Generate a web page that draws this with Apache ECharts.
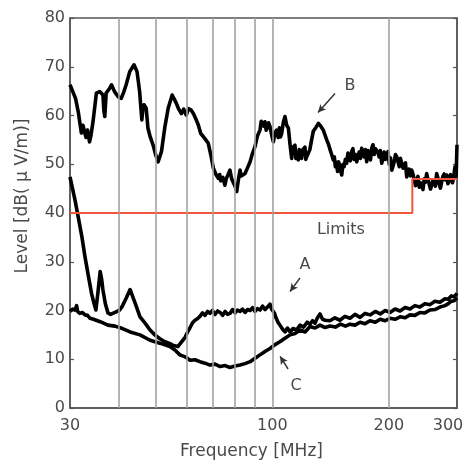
<!DOCTYPE html>
<html>
<head>
<meta charset="utf-8">
<script src="https://cdn.jsdelivr.net/npm/echarts@6/dist/echarts.min.js"></script>
<style>
html,body{margin:0;padding:0;background:#fff;overflow:hidden;width:463px;height:464px;}
#chart{width:463px;height:464px;}
</style>
</head>
<body>
<div id="chart"></div>
<script>
// ---- data (frequency MHz, level dB(uV/m)) ----
const curveB = [[30.0,66.3],[30.5,64.9],[31.0,63.5],[31.5,60.8],[32.1,56.4],[32.4,58.0],[32.7,57.7],[33.0,55.5],[33.3,57.0],[33.7,54.6],[34.0,56.0],[34.4,58.7],[35.1,64.6],[35.8,64.9],[36.5,64.2],[36.7,61.0],[36.9,59.8],[37.1,63.0],[37.2,64.6],[38.0,65.6],[38.4,66.3],[39.1,64.9],[40.0,63.8],[40.7,63.5],[41.3,64.8],[41.9,66.3],[42.8,69.0],[43.9,70.4],[44.7,69.0],[45.4,64.9],[45.8,61.0],[46.0,59.1],[46.3,61.5],[46.6,62.2],[47.2,61.5],[47.7,57.4],[48.4,55.5],[49.2,53.9],[50.0,51.8],[50.7,50.5],[51.7,52.6],[52.7,57.4],[53.8,61.5],[55.1,64.2],[56.5,62.5],[57.2,61.4],[58.2,60.4],[59.0,61.3],[59.9,60.1],[60.8,61.4],[61.7,61.1],[62.6,60.3],[63.6,59.1],[64.4,58.0],[65.3,56.3],[66.3,55.7],[67.3,55.0],[68.3,54.3],[69.3,52.0],[70.4,49.2],[71.4,48.0],[72.5,47.1],[73.1,47.9],[73.6,46.6],[74.5,47.3],[75.4,45.7],[76.0,47.0],[76.5,46.8],[77.7,48.8],[78.5,47.0],[79.3,47.4],[80.1,45.5],[80.9,44.4],[81.7,46.8],[82.5,48.8],[83.1,47.6],[83.7,47.2],[85.0,48.1],[86.2,49.2],[87.6,50.5],[88.9,52.3],[90.2,53.6],[91.5,55.8],[92.9,57.0],[93.6,58.8],[94.3,58.6],[95.0,57.8],[95.7,58.7],[96.4,57.0],[97.1,57.2],[97.8,58.5],[98.6,57.7],[99.6,56.0],[100.6,54.6],[101.6,56.5],[102.6,57.0],[103.5,55.5],[104.3,57.5],[105.0,55.6],[105.7,56.3],[106.7,58.5],[107.8,59.8],[108.9,58.0],[110.0,57.4],[111.1,54.0],[112.2,51.2],[112.8,53.4],[113.3,53.0],[114.4,53.9],[115.0,51.2],[115.5,52.0],[116.7,50.9],[117.3,53.0],[117.9,52.5],[119.0,51.2],[119.6,52.9],[120.2,52.6],[121.4,53.5],[122.0,51.0],[122.6,51.5],[123.9,51.2],[125.0,53.0],[126.3,55.0],[127.6,56.8],[129.5,57.5],[131.5,58.4],[133.4,57.8],[135.4,57.0],[136.8,56.0],[138.2,55.0],[139.5,54.2],[141.0,53.0],[142.3,52.0],[143.7,50.9],[144.6,51.5],[145.5,49.5],[146.5,50.4],[147.4,48.5],[148.3,50.5],[149.2,49.8],[150.2,48.6],[151.1,47.8],[152.2,50.0],[153.3,49.5],[154.4,51.0],[155.6,50.2],[156.8,52.3],[158.0,51.8],[159.1,50.7],[160.3,52.6],[161.5,53.2],[162.7,51.0],[164.0,52.0],[165.2,50.5],[166.4,51.6],[167.6,52.5],[168.9,51.2],[170.2,53.3],[171.4,52.5],[172.7,51.5],[174.0,53.0],[175.3,50.5],[176.6,52.8],[178.0,52.2],[179.3,50.9],[180.6,53.3],[182.0,54.0],[183.3,52.0],[184.7,53.2],[186.1,53.6],[187.4,52.4],[188.8,51.5],[190.2,52.8],[191.7,50.2],[193.1,51.2],[194.5,52.5],[196.0,51.0],[197.5,51.9],[199.0,52.6],[200.5,50.0],[202.0,51.3],[203.5,48.8],[205.0,49.6],[206.5,50.5],[208.0,52.0],[209.6,51.5],[211.1,50.6],[212.7,49.5],[214.3,51.2],[215.9,50.2],[217.5,49.2],[219.1,48.8],[220.8,50.3],[222.4,47.4],[224.0,48.2],[225.7,49.0],[227.4,47.6],[229.1,48.8],[230.8,48.0],[232.5,47.0],[234.3,45.6],[236.1,46.4],[237.8,47.5],[239.6,45.3],[241.4,46.2],[243.2,45.7],[245.0,44.8],[246.8,47.0],[248.6,46.3],[250.5,48.1],[252.4,46.9],[254.3,46.5],[256.2,44.9],[258.1,45.7],[260.0,46.8],[261.9,47.0],[263.8,45.5],[265.8,48.1],[267.8,47.2],[269.8,46.0],[271.8,45.1],[273.9,46.4],[275.9,47.5],[278.0,48.0],[280.0,46.8],[282.1,47.8],[284.2,46.0],[286.4,46.5],[288.5,47.9],[290.7,47.4],[292.1,46.2],[293.5,47.0],[295.0,48.2],[296.4,49.5],[298.5,47.5],[299.5,52.0],[300.0,54.0]];

const curveA = [[30.0,47.4],[30.9,42.7],[31.5,39.2],[32.2,35.1],[32.8,31.0],[33.5,26.9],[34.1,23.5],[34.6,21.5],[35.0,20.1],[35.4,23.5],[35.9,28.0],[36.2,26.5],[36.5,24.2],[37.0,21.5],[37.6,19.5],[38.2,19.2],[39.2,19.6],[40.2,20.0],[40.9,20.8],[41.9,22.5],[42.9,24.3],[43.5,23.0],[44.2,21.5],[45.5,18.7],[46.9,17.4],[48.3,16.0],[49.7,15.0],[51.2,14.2],[52.8,13.6],[54.4,13.2],[55.5,12.8],[57.0,12.6],[58.2,13.5],[59.5,14.5],[60.4,15.6],[61.3,16.5],[62.2,17.5],[63.1,18.0],[64.0,18.3],[65.0,18.8],[66.0,19.5],[67.0,19.0],[68.0,19.8],[69.0,19.4],[70.0,20.0],[71.1,19.2],[72.2,19.9],[73.3,19.6],[74.4,19.0],[75.5,19.8],[76.6,19.2],[77.7,19.4],[78.9,20.2],[80.1,19.5],[81.3,20.1],[82.5,19.8],[83.7,20.3],[85.0,19.6],[86.3,20.2],[87.6,20.0],[88.9,20.6],[90.2,19.8],[91.5,20.4],[92.9,20.1],[94.3,20.9],[95.8,20.2],[97.4,20.8],[98.6,21.3],[99.5,20.3],[100.4,20.5],[101.2,19.5],[102.2,18.5],[103.4,17.6],[104.6,17.0],[106.2,16.2],[107.8,15.6],[109.4,16.4],[111.1,15.6],[113.1,16.3],[115.5,16.0],[117.9,17.0],[120.5,16.6],[123.0,17.6],[125.1,17.2],[127.0,17.9],[128.9,17.4],[130.8,18.5],[132.8,19.3],[134.8,18.2],[137.0,18.0],[140.9,17.9],[145.0,18.5],[149.5,18.0],[154.0,18.8],[158.7,18.4],[163.5,19.2],[168.5,18.6],[173.6,19.4],[178.8,19.1],[184.5,19.8],[190.0,19.3],[195.6,20.0],[201.4,19.6],[207.5,20.3],[213.8,19.9],[220.3,20.6],[226.8,20.3],[233.5,21.0],[240.5,20.7],[247.8,21.4],[255.5,21.2],[263.0,21.9],[271.0,21.7],[279.3,22.4],[285.0,22.3],[290.0,23.0],[295.0,22.8],[300.0,23.5]];

const curveC = [[30.0,19.8],[30.5,20.3],[30.9,20.1],[31.2,21.0],[31.4,19.8],[31.8,19.4],[32.3,19.6],[32.8,19.1],[33.3,19.0],[33.8,18.4],[34.5,18.2],[35.9,17.7],[37.6,17.0],[39.2,16.8],[41.0,16.3],[42.9,15.6],[45.5,15.0],[48.3,13.9],[51.2,13.3],[54.4,12.6],[56.0,11.9],[57.7,10.9],[59.5,10.5],[61.3,9.8],[63.1,9.9],[65.0,9.5],[67.0,9.2],[69.0,8.8],[71.1,9.0],[73.3,8.5],[75.5,8.7],[77.7,8.3],[80.1,8.6],[82.5,8.8],[85.0,9.1],[87.6,9.5],[90.2,10.2],[92.9,10.9],[95.7,11.6],[98.6,12.2],[101.6,13.0],[104.6,13.6],[107.8,14.3],[111.1,15.0],[114.4,15.3],[117.9,16.0],[121.5,15.6],[125.1,16.7],[128.9,16.4],[132.8,17.0],[136.8,16.5],[140.9,16.8],[145.5,16.6],[150.0,17.2],[154.5,16.8],[158.7,17.2],[163.5,17.0],[168.5,17.6],[173.6,17.3],[178.8,17.9],[184.5,17.6],[190.0,18.2],[195.6,17.9],[201.4,18.4],[207.5,18.2],[213.8,18.7],[220.3,18.5],[226.8,19.1],[233.5,19.0],[240.5,19.6],[247.8,19.5],[255.5,20.1],[263.0,20.2],[271.0,20.7],[279.3,21.0],[285.0,21.4],[290.0,21.9],[295.0,22.0],[300.0,22.6]];

const limitFreq  = [30, 230, 230, 300];
const limitLevel = [40, 40, 47, 47];

const gridFreqs  = [40, 50, 60, 70, 80, 90, 100, 200];
const xTickLabels = [30, 100, 200, 300];

// annotation labels: [text, freq, level]
const labelTexts = [['B', 158.7, 66.1], ['A', 121.4, 29.4], ['C', 115.1, 4.5], ['Limits', 150.4, 36.5]];
// arrows: [fromFreq, fromLevel, toFreq, toLevel]
const arrows = [[145.2, 64.5, 131.2, 60.6], [117.9, 26.7, 111.1, 23.9], [109.8, 8.0, 104.7, 10.6]];

// ---- chart ----
const FONT = 'DejaVu Sans';
const TXT = '#4a4a4a';
const chart = echarts.init(document.getElementById('chart'), null, {renderer: 'canvas', width: 463, height: 464});

const blackLine = (name, data) => ({
  name, type: 'line', data, showSymbol: false, symbol: 'none',
  lineStyle: {color: '#000', width: 3.6, join: 'round'},
  z: 3, silent: true, animation: false
});

chart.setOption({
  animation: false,
  backgroundColor: '#fff',
  grid: {left: 70, right: 6, top: 18, bottom: 56, containLabel: false, outerBoundsMode: 'none',
         show: true, borderColor: '#555', borderWidth: 1.5, backgroundColor: 'transparent'},
  xAxis: {
    type: 'log', logBase: 10, min: 30, max: 300,
    name: 'Frequency [MHz]', nameLocation: 'middle', nameGap: 35,
    nameTextStyle: {fontFamily: FONT, fontSize: 17, color: TXT, padding: [0, 24, 0, 0]},
    axisLine: {show: true, lineStyle: {color: '#555', width: 1.5}},
    axisTick: {show: false},
    splitLine: {show: false},
    minorTick: {show: false}, minorSplitLine: {show: false},
    axisLabel: {
      customValues: xTickLabels, fontFamily: FONT, fontSize: 16, color: TXT, margin: 10,
      showMinLabel: true, showMaxLabel: true,
      formatter: v => (v === xTickLabels[xTickLabels.length - 1] ? '{r|' + v + '}' : String(v)),
      rich: {r: {fontFamily: FONT, fontSize: 16, color: TXT, padding: [0, 18, 0, 0]}}
    }
  },
  yAxis: [{
    type: 'value', min: 0, max: 80, interval: 10, position: 'left',
    name: 'Level [dB( μ V/m)]', nameLocation: 'middle', nameGap: 39,
    nameTextStyle: {fontFamily: FONT, fontSize: 17, color: TXT, padding: [0, 0, 0, 34]},
    axisLine: {show: true, lineStyle: {color: '#555', width: 1.5}},
    axisTick: {show: true, inside: true, length: 4, lineStyle: {color: '#555', width: 1.2}},
    axisLabel: {fontFamily: FONT, fontSize: 16, color: TXT, margin: 5},
    splitLine: {show: false}
  }, {
    type: 'value', min: 0, max: 80, interval: 10, position: 'right',
    axisLine: {show: true, lineStyle: {color: '#555', width: 1.5}},
    axisTick: {show: true, inside: true, length: 4, lineStyle: {color: '#555', width: 1.2}},
    axisLabel: {show: false},
    splitLine: {show: false}
  }],
  series: [
    {
      name: 'grid', type: 'line', data: [], silent: true, z: 1,
      markLine: {
        silent: true, symbol: ['none', 'none'], animation: false,
        label: {show: false},
        lineStyle: {color: '#a3a3a3', width: 1.6, type: 'solid'},
        data: gridFreqs.map(f => ({xAxis: f}))
      }
    },
    blackLine('B', curveB),
    blackLine('A', curveA),
    blackLine('C', curveC),
    {
      name: 'Limits', type: 'line', showSymbol: false, symbol: 'none',
      data: limitFreq.map((f, i) => [f, limitLevel[i]]),
      lineStyle: {color: '#f2553a', width: 2}, z: 4, silent: true,
      markPoint: {
        silent: true, animation: false,
        symbol: 'rect', symbolSize: 1, itemStyle: {color: 'rgba(0,0,0,0)'},
        label: {show: true, position: 'inside', fontFamily: FONT, fontSize: 16, color: TXT, formatter: p => p.name},
        data: labelTexts.map(t => ({name: t[0], coord: [t[1], t[2]]}))
      },
      markLine: {
        silent: true, animation: false,
        symbol: ['none', 'arrow'], symbolSize: [6, 8],
        label: {show: false},
        lineStyle: {color: '#333', width: 1.5, type: 'solid'},
        data: arrows.map(a => [{coord: [a[0], a[1]]}, {coord: [a[2], a[3]]}])
      }
    }
  ]
});
</script>
</body>
</html>
